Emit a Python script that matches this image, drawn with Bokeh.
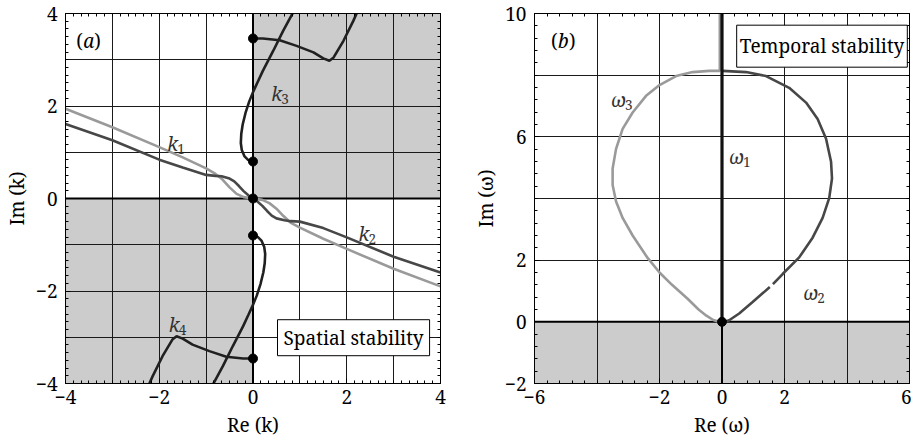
from bokeh.plotting import figure
from bokeh.models import FixedTicker, LinearAxis, Span, Label, BoxAnnotation, Range1d
from bokeh.layouts import row
from bokeh.embed import file_html
from bokeh.resources import INLINE

FONT = "Noto Serif"
FS = "19px"
FS_SUB = "13.5px"

# ---------------- data: panel (a) ----------------
a_ticks = [-4, -2, 0, 2, 4]
a_tick_labels = {-4: "−4", -2: "−2", 0: "0", 2: "2", 4: "4"}
a_grid = [-3, -2, -1, 0, 1, 2, 3]

# k1 / k2 (dark branch)
kd_x = [-4, -3, -2, -1.5, -1, -0.8, -0.67, -0.5, -0.4, -0.3, -0.2, -0.1, 0,
        0.1, 0.2, 0.3, 0.4, 0.5, 0.67, 0.8, 1, 1.5, 2, 3, 4]
kd_y = [1.61, 1.26, 0.84, 0.67, 0.51, 0.49, 0.48, 0.43, 0.37, 0.27, 0.16, 0.07, 0,
        -0.07, -0.16, -0.27, -0.37, -0.43, -0.47, -0.49, -0.5, -0.64, -0.84, -1.26, -1.6]
# k1 / k2 (light branch)
kl_x = [-4, -3, -2, -1.5, -1, -0.8, -0.65, -0.5, -0.35, -0.2, 0,
        0.2, 0.35, 0.5, 0.65, 0.8, 1, 1.5, 2, 3, 4]
kl_y = [1.94, 1.54, 1.11, 0.89, 0.65, 0.53, 0.41, 0.24, 0.1, 0.03, 0,
        -0.03, -0.1, -0.22, -0.38, -0.52, -0.63, -0.87, -1.09, -1.52, -1.9]
# k3
k3a_x = [0, -0.1, -0.18, -0.24, -0.26, -0.25, -0.22, -0.16, -0.08, 0, 0.1, 0.21, 0.43, 0.64, 0.87]
k3a_y = [0.8, 0.83, 0.91, 1.05, 1.2, 1.4, 1.6, 1.85, 2.1, 2.3, 2.52, 2.76, 3.19, 3.62, 4.05]
k3b_x = [0, 0.21, 0.57, 0.93, 1.29, 1.5, 1.63, 1.72, 1.93, 2.14, 2.21]
k3b_y = [3.46, 3.46, 3.42, 3.3, 3.16, 3.03, 2.98, 3.05, 3.41, 3.84, 4.0]
# k4
k4a_x = [0, 0.1, 0.18, 0.24, 0.26, 0.25, 0.22, 0.16, 0.08, 0, -0.1, -0.21, -0.43, -0.64, -0.87]
k4a_y = [-0.8, -0.83, -0.91, -1.05, -1.2, -1.4, -1.6, -1.85, -2.1, -2.3, -2.52, -2.76, -3.19, -3.62, -4.05]
k4b_x = [0, -0.21, -0.57, -0.93, -1.29, -1.5, -1.63, -1.72, -1.93, -2.14, -2.21]
k4b_y = [-3.46, -3.46, -3.42, -3.3, -3.16, -3.03, -2.98, -3.05, -3.41, -3.84, -4.0]
# branch points
kdot_x = [0, 0, 0, 0, 0]
kdot_y = [3.46, 0.8, 0, -0.8, -3.46]

# ---------------- data: panel (b) ----------------
b_xticks = [-6, -2, 0, 2, 6]
b_xtick_labels = {-6: "−6", -2: "−2", 0: "0", 2: "2", 6: "6"}
b_yticks = [-2, 0, 2, 6, 10]
b_ytick_labels = {-2: "−2", 0: "0", 2: "2", 6: "6", 10: "10"}
b_xgrid = [-4, -2, 0, 2, 4]
b_ygrid = [0, 2, 4, 6, 8]

w1_x = [0, 0]
w1_y = [0, 10]
w3_x = [0, -0.12, -0.28, -0.5, -0.75, -1.1, -1.6, -2.0, -2.4, -2.86, -3.18, -3.39, -3.5,
        -3.5, -3.39, -3.18, -2.86, -2.43, -2.0, -1.47, -0.94, -0.41, -0.07, -0.07]
w3_y = [0, 0.01, 0.06, 0.2, 0.4, 0.75, 1.2, 1.6, 2.1, 2.8, 3.37, 3.9, 4.44,
        4.97, 5.61, 6.26, 6.79, 7.33, 7.68, 7.97, 8.1, 8.14, 8.14, 10]
w2a_x = [0, 0.12, 0.23, 0.55, 0.98, 1.53]
w2a_y = [0, 0.01, 0.05, 0.27, 0.64, 1.13]
w2b_x = [1.63, 1.94, 2.47, 2.9, 3.22, 3.43, 3.52, 3.49, 3.33, 3.06, 2.69, 2.15, 1.41, 0.77, 0.02]
w2b_y = [1.22, 1.55, 2.09, 2.73, 3.37, 4.01, 4.65, 5.19, 5.94, 6.58, 7.11, 7.59, 7.97, 8.1, 8.14]
wdot_x = [0]
wdot_y = [0]

LIGHT = "#9a9a9a"
DARK = "#474747"
DARKER = "#202020"
SHADE = "#cccccc"


def style_axis(ax, ticker, overrides, show, label=None, standoff=4, label_standoff=3):
    ax.ticker = ticker
    ax.major_tick_in = 5
    ax.major_tick_out = 0
    ax.minor_tick_in = 3
    ax.minor_tick_out = 0
    ax.axis_line_color = "black"
    ax.major_tick_line_color = "black"
    ax.minor_tick_line_color = "black"
    if show:
        ax.major_label_overrides = overrides
        ax.major_label_text_font = FONT
        ax.major_label_text_font_size = FS
        ax.major_label_text_color = "black"
        ax.major_label_standoff = standoff
        ax.axis_label = label
        ax.axis_label_text_font = FONT
        ax.axis_label_text_font_size = FS
        ax.axis_label_text_font_style = "normal"
        ax.axis_label_text_color = "black"
        ax.axis_label_standoff = label_standoff
    else:
        ax.major_label_text_font_size = "0px"
        ax.major_label_standoff = 0
        ax.axis_label = None


def make_fig(xr, yr, xt, xl, yt, yl, xminor, yminor, xg, yg, xlabel, ylabel, mbl, mbr):
    p = figure(x_range=Range1d(*xr), y_range=Range1d(*yr),
               frame_width=375, frame_height=370,
               output_backend="svg", toolbar_location=None, tools="",
               min_border_left=mbl, min_border_right=mbr,
               min_border_top=13, min_border_bottom=51,
               background_fill_color="white", border_fill_color="white",
               outline_line_color="black", outline_line_width=1)
    xtk = FixedTicker(ticks=xt, minor_ticks=xminor)
    ytk = FixedTicker(ticks=yt, minor_ticks=yminor)
    style_axis(p.xaxis[0], xtk, xl, True, xlabel, standoff=6, label_standoff=5)
    style_axis(p.yaxis[0], ytk, yl, True, ylabel, standoff=8, label_standoff=3)
    top = LinearAxis()
    right = LinearAxis()
    # mirrored axes on top/right: minor ticks only
    style_axis(top, FixedTicker(ticks=[], minor_ticks=xminor), xl, False)
    style_axis(right, FixedTicker(ticks=[], minor_ticks=yminor), yl, False)
    p.add_layout(top, "above")
    p.add_layout(right, "right")
    p.xgrid.ticker = FixedTicker(ticks=xg)
    p.ygrid.ticker = FixedTicker(ticks=yg)
    for g in (p.xgrid[0], p.ygrid[0]):
        g.grid_line_color = "#1a1a1a"
        g.grid_line_width = 1
        g.grid_line_alpha = 1
    return p


def sub_label(p, x, y, main, sub, dx):
    p.add_layout(Label(x=x, y=y, text=main, text_font=FONT, text_font_size=FS,
                       text_font_style="italic", text_color="#333333",
                       text_baseline="alphabetic", text_align="left"))
    p.add_layout(Label(x=x, y=y, x_offset=dx, y_offset=-5, text=sub, text_font=FONT,
                       text_font_size=FS_SUB, text_color="#333333",
                       text_baseline="alphabetic", text_align="left"))


def panel_tag(p, x, y, letter):
    p.add_layout(Label(x=x, y=y, text="(", text_font=FONT, text_font_size=FS,
                       text_baseline="alphabetic", text_align="left", text_color="black"))
    p.add_layout(Label(x=x, y=y, x_offset=7, text=letter, text_font=FONT, text_font_size=FS,
                       text_font_style="italic",
                       text_baseline="alphabetic", text_align="left", text_color="black"))
    p.add_layout(Label(x=x, y=y, x_offset=18, text=")", text_font=FONT, text_font_size=FS,
                       text_baseline="alphabetic", text_align="left", text_color="black"))


def put_boxes_under_grid(p, boxes):
    for b in boxes:
        p.add_layout(b)
    rest = [r for r in p.center if r not in boxes]
    p.center = list(boxes) + rest


# ---------------- panel (a) ----------------
a_minor = [i / 6 for i in range(-24, 25)]
p1 = make_fig((-4, 4), (-4, 4), a_ticks, a_tick_labels, a_ticks, a_tick_labels,
              a_minor, a_minor, a_grid, a_grid, "Re (k)", "Im (k)", 58, 20)
put_boxes_under_grid(p1, [
    BoxAnnotation(left=0, bottom=0, fill_color=SHADE, fill_alpha=1, line_alpha=0, level="underlay"),
    BoxAnnotation(right=0, top=0, fill_color=SHADE, fill_alpha=1, line_alpha=0, level="underlay"),
])
p1.add_layout(Span(location=0, dimension="height", line_color="black", line_width=2, level="underlay"))
p1.add_layout(Span(location=0, dimension="width", line_color="black", line_width=2, level="underlay"))

p1.line(kl_x, kl_y, line_color=LIGHT, line_width=2.6)
p1.line(kd_x, kd_y, line_color=DARK, line_width=2.6)
p1.line(k3a_x, k3a_y, line_color=DARKER, line_width=2.6)
p1.line(k3b_x, k3b_y, line_color=DARKER, line_width=2.6)
p1.line(k4a_x, k4a_y, line_color=DARKER, line_width=2.6)
p1.line(k4b_x, k4b_y, line_color=DARKER, line_width=2.6)
p1.scatter(kdot_x, kdot_y, size=9, color="black")

sub_label(p1, -1.83, 1.18, "k", "1", 10)
sub_label(p1, 2.25, -0.77, "k", "2", 10)
sub_label(p1, 0.39, 2.25, "k", "3", 10)
sub_label(p1, -1.8, -2.74, "k", "4", 10)
panel_tag(p1, -3.77, 3.4, "a")
p1.add_layout(Label(x=2.145, y=-3.01, text="Spatial stability", text_font=FONT,
                    text_font_size=FS, text_color="black", text_align="center",
                    text_baseline="middle", background_fill_color="white",
                    background_fill_alpha=1, border_line_color="black", border_line_width=1,
                    padding=dict(left=6, right=6, top=5, bottom=5)))

# ---------------- panel (b) ----------------
b_minor_x = [-6 + 0.4 * i for i in range(31)]
b_minor_y = [-2 + 0.4 * i for i in range(31)]
p2 = make_fig((-6, 6), (-2, 10), b_xticks, b_xtick_labels, b_yticks, b_ytick_labels,
              b_minor_x, b_minor_y, b_xgrid, b_ygrid, "Re (ω)", "Im (ω)", 74, 2)
put_boxes_under_grid(p2, [
    BoxAnnotation(top=0, fill_color=SHADE, fill_alpha=1, line_alpha=0, level="underlay"),
])
p2.add_layout(Span(location=0, dimension="height", line_color="black", line_width=2, level="underlay"))
p2.add_layout(Span(location=0, dimension="width", line_color="black", line_width=2, level="underlay"))

p2.line(w3_x, w3_y, line_color=LIGHT, line_width=2.6)
p2.line(w2a_x, w2a_y, line_color=DARK, line_width=2.6)
p2.line(w2b_x, w2b_y, line_color=DARK, line_width=2.6)
p2.line(w1_x, w1_y, line_color="#111111", line_width=3.2)
p2.scatter(wdot_x, wdot_y, size=9, color="black")

sub_label(p2, -3.55, 7.19, "ω", "3", 14)
sub_label(p2, 0.22, 5.33, "ω", "1", 14)
sub_label(p2, 2.6, 0.92, "ω", "2", 14)
panel_tag(p2, -5.47, 9.11, "b")
p2.add_layout(Label(x=3.2, y=8.94, text="Temporal stability", text_font=FONT,
                    text_font_size=FS, text_color="black", text_align="center",
                    text_baseline="middle", background_fill_color="white",
                    background_fill_alpha=1, border_line_color="black", border_line_width=1,
                    padding=dict(left=3, right=3, top=8, bottom=8)))

layout = row(p1, p2)
open("out.html", "w").write(file_html(layout, INLINE))
